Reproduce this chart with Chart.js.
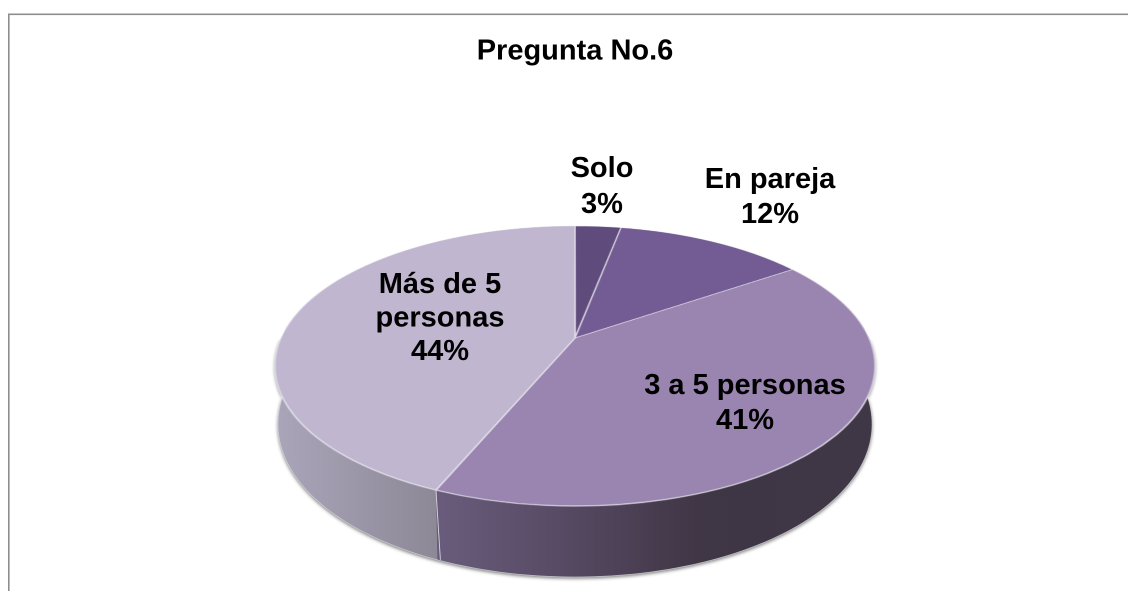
<!DOCTYPE html>
<html lang="es">
<head>
<meta charset="utf-8">
<title>Pregunta No.6</title>
<style>
html,body{margin:0;padding:0;background:#fff;overflow:hidden}
#wrap{position:absolute;left:0;top:0;width:1128px;height:591px}
</style>
<script src="https://cdn.jsdelivr.net/npm/chart.js@4"></script>
</head>
<body>
<div id="wrap"><canvas id="c" width="1128" height="591"></canvas></div>
<script>
const titleText = "Pregunta No.6";
const categories = ["Solo", "En pareja", "3 a 5 personas", "Más de 5\npersonas"];
const values = [3, 12.4, 40.9, 43.7];

const topColors = ["#604c7c", "#735b93", "#9a84b0", "#c0b6d0"];
const sideStops = [
  [[0, "#4a3c5c"], [1, "#4a3c5c"]],
  [[0, "#5a4872"], [1, "#5a4872"]],
  [[0, "#6a5c7c"], [0.28, "#574b65"], [0.6, "#403645"], [1, "#3f3647"]],
  [[0, "#aba5ba"], [1, "#8d8997"]]
];
// label anchors: centre x, first baseline y, line step
const labelAnchors = [[602, 177, 36], [770, 188, 35], [745, 394, 35], [440, 293, 33.5]];

// Perspective of the tilted disc
const view = { A: 294, k: 0.2, p: 338, q: 66.8, top: 226, bottom: 506 };
const depth = { base: 55, grow: 16, shrink: 0.99 };

function project(cx, u, v) {
  const w = 1 - view.k * v;
  return [cx + view.A * u / w, (view.p + view.q * v) / w];
}
function lower(cx, pt, v) {
  return [cx + (pt[0] - cx) * depth.shrink, pt[1] + depth.base + depth.grow * v];
}
function bandPath(ctx, cx, a0, a1) {
  const n = Math.max(8, Math.ceil((a1 - a0) * 60));
  ctx.beginPath();
  for (let i = 0; i <= n; i++) {
    const a = a0 + (a1 - a0) * i / n;
    const pt = project(cx, Math.cos(a), Math.sin(a));
    i ? ctx.lineTo(pt[0], pt[1]) : ctx.moveTo(pt[0], pt[1]);
  }
  for (let i = n; i >= 0; i--) {
    const a = a0 + (a1 - a0) * i / n;
    const v = Math.sin(a);
    const pt = lower(cx, project(cx, Math.cos(a), v), v);
    ctx.lineTo(pt[0], pt[1]);
  }
  ctx.closePath();
}

const tiltPlugin = {
  id: "tilt",
  beforeDraw(chart) {
    const ctx = chart.ctx;
    ctx.save();
    ctx.fillStyle = "#8e8e8e";
    ctx.fillRect(8, 13.5, 1120, 1.6);
    ctx.fillRect(8, 13.5, 1.6, 578);
    ctx.restore();
  },
  afterDatasetsDraw(chart) {
    const ctx = chart.ctx;
    const arcs = chart.getDatasetMeta(0).data;
    const { x: cx, y: cy, outerRadius: R } = arcs[0];
    const dpr = chart.currentDevicePixelRatio;
    const sx = Math.floor((cx - R - 3) * dpr), sy = Math.floor((cy - R - 3) * dpr);
    const sw = Math.ceil((2 * R + 6) * dpr), sh = Math.ceil((2 * R + 6) * dpr);

    const tmp = document.createElement("canvas");
    tmp.width = sw; tmp.height = sh;
    tmp.getContext("2d").drawImage(chart.canvas, sx, sy, sw, sh, 0, 0, sw, sh);

    ctx.save();
    ctx.clearRect(cx - R - 3, cy - R - 3, 2 * R + 6, 2 * R + 6);

    // soft shadow under the disc
    ctx.save();
    ctx.shadowColor = "rgba(0,0,0,0.55)";
    ctx.shadowBlur = 7;
    ctx.shadowOffsetY = 3;
    ctx.fillStyle = "#555";
    bandPath(ctx, cx, 0, Math.PI);
    ctx.fill();
    ctx.restore();

    // rim of each slice
    arcs.forEach((arc, i) => {
      const pts = [];
      for (let t = 0; t <= 40; t++) {
        const a = arc.startAngle + (arc.endAngle - arc.startAngle) * t / 40;
        if (Math.sin(a) > -0.2) pts.push(project(cx, Math.cos(a), Math.sin(a))[0]);
      }
      if (!pts.length) return;
      const g = ctx.createLinearGradient(Math.min(...pts), 0, Math.max(...pts), 0);
      sideStops[i].forEach(s => g.addColorStop(s[0], s[1]));
      ctx.fillStyle = g;
      bandPath(ctx, cx, arc.startAngle, arc.endAngle);
      ctx.fill();
    });

    // seams where visible front slices meet
    arcs.forEach(arc => {
      const a = arc.endAngle, v = Math.sin(a);
      if (v <= 0.2) return;
      const p0 = project(cx, Math.cos(a), v), p1 = lower(cx, p0, v);
      ctx.strokeStyle = "rgba(235,235,240,0.85)";
      ctx.lineWidth = 0.9;
      ctx.beginPath(); ctx.moveTo(p0[0], p0[1]); ctx.lineTo(p1[0] + 3, p1[1]); ctx.stroke();
    });

    // pale edge along the bottom of the rim
    ctx.strokeStyle = "rgba(225,225,230,0.7)";
    ctx.lineWidth = 0.8;
    ctx.beginPath();
    for (let t = 0; t <= 120; t++) {
      const a = Math.PI * t / 120, v = Math.sin(a);
      const pt = lower(cx, project(cx, Math.cos(a), v), v);
      t ? ctx.lineTo(pt[0], pt[1]) : ctx.moveTo(pt[0], pt[1]);
    }
    ctx.stroke();

    // top face: the library's pie, re-projected row by row
    ctx.setTransform(1, 0, 0, 1, 0, 0);
    ctx.imageSmoothingEnabled = true;
    ctx.imageSmoothingQuality = "high";
    const y0 = Math.round(view.top * dpr) - 2, y1 = Math.round(view.bottom * dpr) + 2;
    const invV = y => (y - view.p) / (view.q + view.k * y);
    for (let r = y0; r < y1; r++) {
      const yA = r / dpr, yB = (r + 1) / dpr;
      const vA = invV(yA), vB = invV(yB);
      const w = 1 - view.k * (vA + vB) / 2;
      const srcY = (cy + R * vA) * dpr - sy;
      const srcH = R * (vB - vA) * dpr;
      const srcX = (cx - R) * dpr - sx;
      const half = view.A / w;
      ctx.drawImage(tmp, srcX, srcY, 2 * R * dpr, srcH,
        (cx - half) * dpr, r, 2 * half * dpr, 1);
    }
    ctx.restore();
  },
  afterDraw(chart) {
    const ctx = chart.ctx;
    const total = values.reduce((a, b) => a + b, 0);
    ctx.save();
    ctx.font = "bold 29px 'Liberation Sans', Arial, sans-serif";
    ctx.fillStyle = "#000";
    ctx.textAlign = "center";
    ctx.textBaseline = "alphabetic";
    categories.forEach((name, i) => {
      const lines = name.split("\n").concat(Math.round(values[i] / total * 100) + "%");
      const [x, y, step] = labelAnchors[i];
      lines.forEach((t, j) => ctx.fillText(t, x, y + j * step));
    });
    ctx.restore();
  }
};

new Chart(document.getElementById("c"), {
  type: "pie",
  data: {
    labels: categories,
    datasets: [{
      data: values,
      backgroundColor: topColors,
      borderColor: "rgba(232,230,238,0.85)",
      borderWidth: 0.7,
      borderAlign: "center"
    }]
  },
  options: {
    responsive: false,
    devicePixelRatio: 2,
    animation: false,
    events: [],
    radius: 145,
    rotation: 0,
    layout: { padding: { left: 22, right: 0, top: 0, bottom: 0 } },
    plugins: {
      legend: { display: false },
      tooltip: { enabled: false },
      title: {
        display: true,
        text: titleText,
        color: "#000",
        font: { family: "'Liberation Sans', Arial, sans-serif", size: 29, weight: "bold", lineHeight: 1.2 },
        padding: { top: 34, bottom: 72.2 }
      }
    }
  },
  plugins: [tiltPlugin]
});
</script>
</body>
</html>
